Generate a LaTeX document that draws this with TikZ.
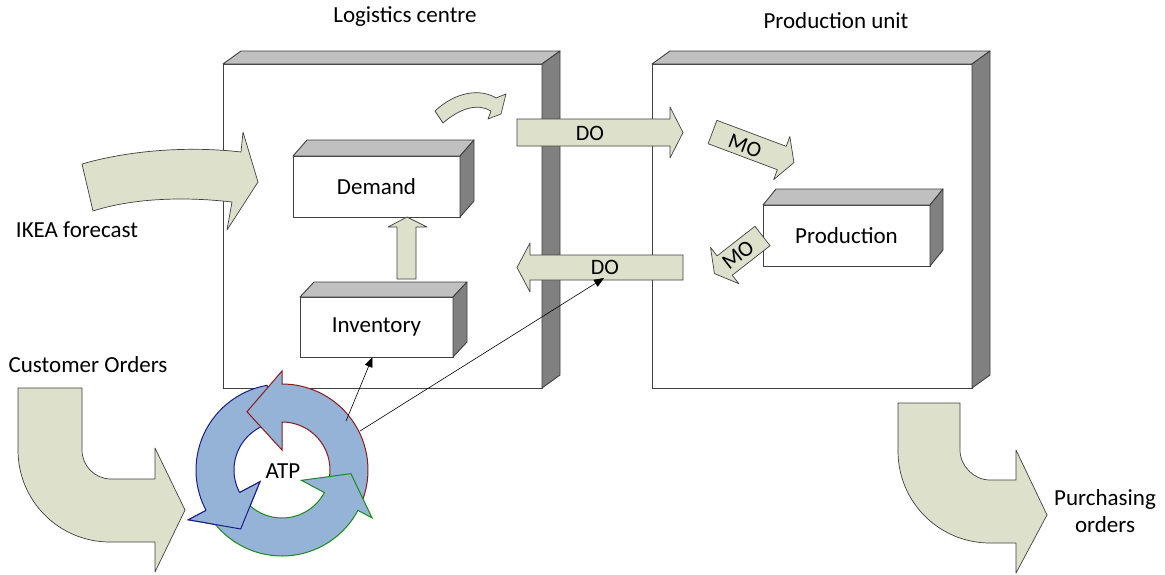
\documentclass[tikz,border=0pt]{standalone}
\usepackage{fontspec}
\setmainfont{Carlito}
\usetikzlibrary{calc,arrows.meta}
\definecolor{arrowfill}{HTML}{DDE1CC}
\definecolor{topgray}{HTML}{C0C0C0}
\definecolor{sidegray}{HTML}{808080}
\definecolor{atpfill}{HTML}{95B3D7}
\definecolor{atpred}{HTML}{8B1A1A}
\definecolor{atpblue}{HTML}{1A1A8B}
\definecolor{atpgreen}{HTML}{1A8B1A}
\definecolor{edgecol}{HTML}{404040}
\tikzset{
 lbl/.style={font=\fontsize{23}{27}\selectfont, inner sep=0pt},
 smalllbl/.style={font=\fontsize{22}{26}\selectfont, inner sep=0pt},
 frontface/.style={draw=edgecol, fill=white, line width=0.9pt, outer sep=0pt, inner sep=0pt, font=\fontsize{23}{27}\selectfont},
 topface/.style={draw=edgecol, fill=topgray, line width=0.9pt, line join=round},
 sideface/.style={draw=edgecol, fill=sidegray, line width=0.9pt, line join=round},
 blk/.style={draw=edgecol, fill=arrowfill, line width=0.7pt, line join=round},
 thinarrow/.style={draw=black, line width=0.6pt, -{Triangle[length=10pt,width=8pt]}},
 atpline/.style={line width=1pt, line join=miter, fill=atpfill},
}
\newcommand\boxdepth[3]{%
 \draw[topface] (#1.north west) -- ++(#2,-#3) -- ($(#1.north east)+(#2,-#3)$) -- (#1.north east) -- cycle;
 \draw[sideface] (#1.north east) -- ++(#2,-#3) -- ($(#1.south east)+(#2,-#3)$) -- (#1.south east) -- cycle;
}
\newcommand\straightblk[7]{%
 \begin{scope}[shift={(#1,#2)},rotate=#3]
  \draw[blk] (0,-#6) -- (#4,-#6) -- (#4,-#7) -- ({#4+#5},0) -- (#4,#7) -- (#4,#6) -- (0,#6) -- cycle;
 \end{scope}}
\newcommand\atparrow[7]{% color, tail, base, tip angle, tip r, inner barb, outer barb
 \draw[atpline, draw=#1] (#2:86) arc[start angle=#2, end angle=#3, radius=86] -- (#3:#7) -- (#4:#5) -- (#3:#6) -- (#3:48) arc[start angle=#3, end angle=#2, radius=48] -- cycle;}
\begin{document}
\begin{tikzpicture}[x=1pt,y=-1pt]
\useasboundingbox[fill=white] (0,0) rectangle (1165,574);

% titles
\node[lbl] (tlog) at (405,17) {Logistics centre};
\node[lbl] (tprod) at (836,21) {Production unit};
\node[lbl] (tikea) at (77,230) {IKEA forecast};
\node[lbl] (tcust) at (88,365) {Customer Orders};
\node[lbl, align=center] (tpur) at (1105,511) {Purchasing\\orders};

% big boxes
\node[frontface, minimum width=319, minimum height=324] (logbox) at (382.5,226) {};
\boxdepth{logbox}{18}{13}
\node[frontface, minimum width=320, minimum height=324] (prodbox) at (812,226) {};
\boxdepth{prodbox}{18}{13}

% inner boxes
\node[frontface, minimum width=167, minimum height=61] (demand) at (376.5,186.5) {Demand};
\boxdepth{demand}{14}{16}
\node[frontface, minimum width=153, minimum height=60] (inventory) at (376.5,327) {Inventory};
\boxdepth{inventory}{14}{15}
\node[frontface, minimum width=167, minimum height=61] (production) at (846.5,235.5) {Production};
\boxdepth{production}{13}{16}

% IKEA forecast arrow
\draw[blk] (82,164) .. controls (130,150) and (190,146) .. (241,152) -- (243,132) -- (258,182) -- (227,230) -- (232,202) .. controls (180,196) and (130,199) .. (93,211) -- cycle;

% small curved arrow
\draw[blk] (435,111) .. controls (455,92) and (480,88) .. (496,98) -- (506,94) -- (501,114) -- (488,119) -- (491,111) .. controls (478,103) and (460,108) .. (443,123) -- cycle;

% up arrow inventory -> demand
\draw[blk] (397,279) -- (397,227) -- (388,227) -- (407,217) -- (427,227) -- (416,227) -- (416,279) -- cycle;

% DO arrows
\straightblk{517}{132.5}{0}{153}{13}{13.5}{25.5}
\node[smalllbl] (dotop) at (590,133) {DO};
\straightblk{683}{267.5}{180}{153}{13}{12.5}{24.5}
\node[smalllbl] (dobot) at (605,267) {DO};

% MO arrows
\straightblk{712.5}{132}{-20.6}{74}{13}{12.5}{23}
\node[smalllbl, rotate=-20.6] (motop) at (745,146) {MO};
\straightblk{762.5}{236}{218}{48}{13}{12.3}{23}
\node[smalllbl, rotate=38] (mobot) at (738,255) {MO};

% Customer orders arrow
\draw[blk] (18,388) -- (82,388) -- (82,450) .. controls (82,466) and (95,479) .. (111,479) -- (155,479) -- (155,448) -- (185,510) -- (155,572) -- (155,542) -- (110,542) .. controls (59,542) and (18,501) .. (18,450) -- cycle;

% Purchasing orders arrow
\draw[blk] (898,403) -- (960,403) -- (960,450) .. controls (960,466) and (974,480) .. (990,480) -- (1016,480) -- (1016,450) -- (1047,515) -- (1016,573) -- (1016,543) -- (990,543) .. controls (939,543) and (898,502) .. (898,451) -- cycle;

% ATP cycle
\begin{scope}[shift={(282,470)}, y=1pt]
 \atparrow{atpblue}{100}{208}{235}{72}{25}{106}
 \atparrow{atpred}{-20}{90}{121}{68}{20}{99}
 \atparrow{atpgreen}{-142}{-28}{-3}{69}{22}{102}
 \fill[atpfill] (208:106) -- (235:72) -- (208:25) -- cycle;
 \draw[atpblue, line width=1pt, line join=miter] (208:86) -- (208:106) -- (235:72) -- (208:25) -- (208:48);
\end{scope}
\node[lbl] (atp) at (283,471) {ATP};

% thin connectors
\coordinate (atpa) at (346,421);
\coordinate (atpb) at (360,431);
\coordinate (dotarget) at (604,278);
\draw[thinarrow] (atpa) -- ([xshift=-4pt]inventory.south);
\draw[thinarrow] (atpb) -- (dotarget);
\end{tikzpicture}
\end{document}
